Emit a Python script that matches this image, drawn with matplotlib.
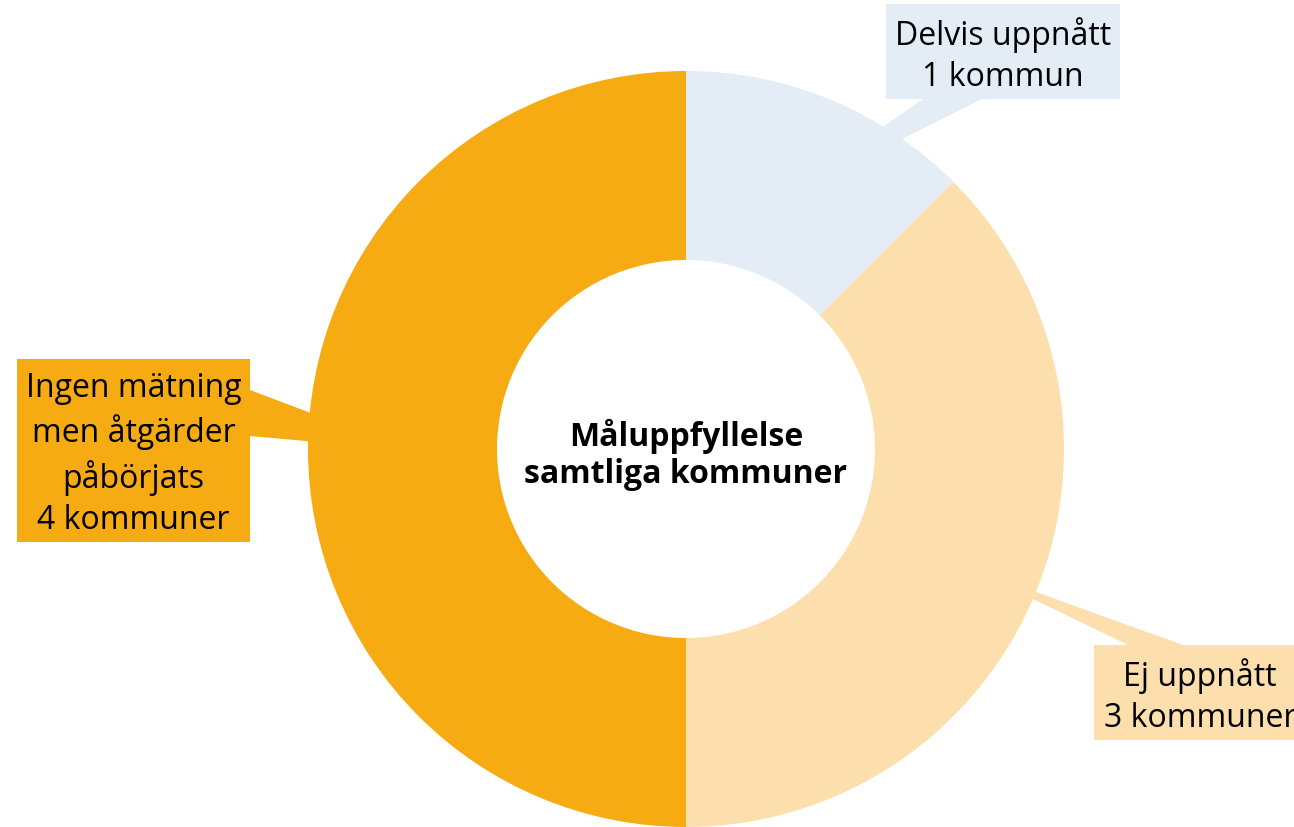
import matplotlib.pyplot as plt
from matplotlib.patches import Rectangle, Polygon

plt.rcParams['font.family'] = ['Open Sans', 'DejaVu Sans']

# data
labels = ['Delvis uppnått\n1 kommun', 'Ej uppnått\n3 kommuner',
          'Ingen mätning\nmen åtgärder\npåbörjats\n4 kommuner']
values = [1, 3, 4]
colors = ['#E4EDF5', '#FDDFAE', '#F7AB12']
center_title = 'Måluppfyllelse\nsamtliga kommuner'

# layout (pixels, y measured from bottom)
W, H = 1294, 828
cx, cy, r_out = 686, 378, 378
# label boxes: x0, y0, width, height
boxes = [(886, 728, 234, 95), (1094, 87, 212, 95), (17, 285, 233, 183)]
# callout wedge: two points on box edge, then two points inside the slice
wedges = [
    [(923, 728), (982, 728), (866, 670), (840, 670)],
    [(1128, 182), (1183, 182), (1000, 248), (1000, 244)],
    [(250, 437), (250, 391), (340, 383), (340, 403)],
]

fig = plt.figure(figsize=(W / 100, H / 100), dpi=100)
ax = fig.add_axes([0, 0, 1, 1])

for pts, c in zip(wedges, colors):
    ax.add_patch(Polygon(pts, closed=True, facecolor=c, edgecolor='none', zorder=1))

ax.pie(values, colors=colors, startangle=90, counterclock=False,
       center=(cx, cy), radius=r_out, frame=True,
       wedgeprops=dict(width=r_out / 2, edgecolor='none', zorder=2))
ax.set_xlim(0, W)
ax.set_ylim(0, H)
ax.set_aspect('equal')
ax.axis('off')

for (x0, y0, w, h), c, lab in zip(boxes, colors, labels):
    ax.add_patch(Rectangle((x0, y0), w, h, facecolor=c, edgecolor='none', zorder=3))
    ax.text(x0 + w / 2, y0 + h / 2 - 3, lab, ha='center', va='center',
            fontsize=23, color='black', linespacing=1.34, zorder=4)

ax.text(cx, cy - 5, center_title, ha='center', va='center', fontsize=23,
        fontweight='bold', color='black', linespacing=1.16, zorder=4)

fig.savefig('out.png', dpi=100)
